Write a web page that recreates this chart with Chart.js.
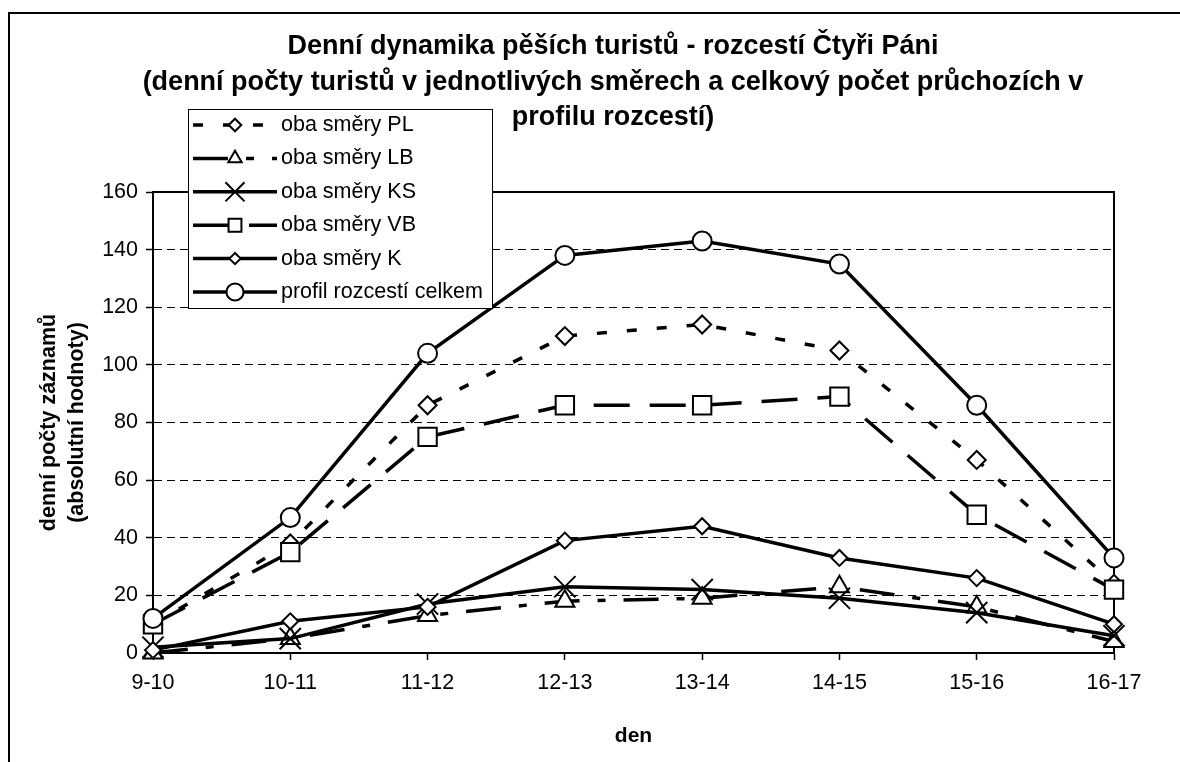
<!DOCTYPE html>
<html lang="cs">
<head>
  <meta charset="UTF-8" />
  <title>Denní dynamika pěších turistů - rozcestí Čtyři Páni</title>
  <script src="https://cdn.jsdelivr.net/npm/chart.js"></script>
  <style>
    html, body { margin: 0; padding: 0; background: #fff; }
    #wrap { width: 1180px; height: 762px; }
  </style>
</head>
<body>
<div id="wrap"><canvas id="chart" width="1180" height="762"></canvas></div>
<script>
  // hodiny (x osa)
  const hours = ['9-10', '10-11', '11-12', '12-13', '13-14', '14-15', '15-16', '16-17'];

  // odečtené hodnoty
  const obaPL  = [10, 38, 86, 110, 114, 105, 67, 24];
  const obaLB  = [0, 5, 13, 18, 19, 23, 16, 4];
  const obaKS  = [2, 5, 17, 23, 22, 19, 14, 6];
  const obaVB  = [10, 35, 75, 86, 86, 89, 48, 22];
  const obaK   = [1, 11, 16, 39, 44, 33, 26, 10];
  const celkem = [12, 47, 104, 138, 143, 135, 86, 33];

  const seriesNames = ['oba směry PL', 'oba směry LB', 'oba směry KS', 'oba směry VB', 'oba směry K', 'profil rozcestí celkem'];
  const titleLines = [
    'Denní dynamika pěších turistů - rozcestí Čtyři Páni',
    '(denní počty turistů v jednotlivých směrech a celkový počet průchozích v',
    'profilu rozcestí)'
  ];
  const yTicks = [0, 20, 40, 60, 80, 100, 120, 140, 160];

  const FONT = '"Liberation Sans", Arial, Helvetica, sans-serif';

  function series(label, data, extra) {
    return Object.assign({
      label: label,
      data: data,
      borderColor: '#000',
      backgroundColor: '#fff',
      borderWidth: 3.5,
      borderCapStyle: 'butt',
      pointBackgroundColor: '#fff',
      pointBorderColor: '#000',
      pointBorderWidth: 2,
      tension: 0,
      fill: false,
      clip: false
    }, extra);
  }

  const datasets = [
    series(seriesNames[0], obaPL,  { borderDash: [10, 20], pointStyle: 'rectRot', pointRadius: 9, order: 4 }),
    series(seriesNames[1], obaLB,  { borderDash: [35, 18, 8, 18], pointStyle: 'triangle', pointRadius: 11, order: 5 }),
    series(seriesNames[2], obaKS,  { pointStyle: 'crossRot', pointRadius: 15, order: 2 }),
    series(seriesNames[3], obaVB,  { borderDash: [36, 20], pointStyle: 'rect', pointRadius: 13, order: 3 }),
    series(seriesNames[4], obaK,   { pointStyle: 'rectRot', pointRadius: 8, order: 1 }),
    series(seriesNames[5], celkem, { pointStyle: 'circle', pointRadius: 9.5, order: 0 })
  ];

  // ramecek, nadpis, okraj grafu a legenda
  const decor = {
    id: 'decor',
    beforeDraw(chart) {
      const ctx = chart.ctx;
      ctx.save();
      ctx.fillStyle = '#fff';
      ctx.fillRect(0, 0, chart.width, chart.height);
      ctx.strokeStyle = '#000';
      ctx.lineWidth = 2;
      ctx.strokeRect(9, 13, 1400, 1000);
      ctx.fillStyle = '#000';
      ctx.font = 'bold 27px ' + FONT;
      ctx.textAlign = 'center';
      ctx.textBaseline = 'middle';
      titleLines.forEach((t, i) => ctx.fillText(t, 613, 47 + i * 35.5));
      ctx.restore();
    },
    beforeDatasetsDraw(chart) {
      const ctx = chart.ctx;
      const a = chart.chartArea;
      ctx.save();
      ctx.strokeStyle = '#000';
      ctx.lineWidth = 2;
      ctx.beginPath();
      ctx.moveTo(a.left, a.top);
      ctx.lineTo(a.right, a.top);
      ctx.lineTo(a.right, a.bottom);
      ctx.stroke();
      ctx.restore();
    },
    afterDraw(chart) {
      const ctx = chart.ctx;
      ctx.save();
      ctx.fillStyle = '#fff';
      ctx.fillRect(188, 109, 304, 199);
      ctx.strokeStyle = '#000';
      ctx.lineWidth = 1;
      ctx.strokeRect(188.5, 109.5, 304, 199);
      chart.data.datasets.forEach((ds, i) => {
        const cy = 125 + i * 33.4;
        ctx.strokeStyle = '#000';
        ctx.lineWidth = ds.borderWidth;
        ctx.setLineDash(ds.borderDash || []);
        ctx.beginPath();
        ctx.moveTo(193, cy);
        ctx.lineTo(277, cy);
        ctx.stroke();
        ctx.setLineDash([]);
        ctx.fillStyle = '#fff';
        ctx.lineWidth = ds.pointBorderWidth;
        const r = ds.pointStyle === 'crossRot' || ds.pointStyle === 'circle' ? ds.pointRadius * 0.9 : ds.pointRadius * 0.7;
        Chart.helpers.drawPoint(ctx, { pointStyle: ds.pointStyle, radius: r, borderWidth: ds.pointBorderWidth, rotation: 0 }, 235, cy);
        ctx.fillStyle = '#000';
        ctx.font = '21.5px ' + FONT;
        ctx.textAlign = 'left';
        ctx.textBaseline = 'middle';
        ctx.fillText(ds.label, 281, cy);
      });
      ctx.restore();
    }
  };

  new Chart(document.getElementById('chart'), {
    type: 'line',
    data: { labels: hours, datasets: datasets },
    plugins: [decor],
    options: {
      responsive: false,
      animation: false,
      devicePixelRatio: 1,
      layout: { padding: { left: 0, top: 192, right: 66, bottom: 0 } },
      plugins: {
        legend: { display: false },
        title: { display: false },
        tooltip: { enabled: false }
      },
      scales: {
        x: {
          type: 'category',
          offset: false,
          grid: { offset: false, drawOnChartArea: false, drawTicks: true, tickLength: 7, tickColor: '#000', tickWidth: 1.5 },
          border: { color: '#000', width: 2 },
          ticks: { color: '#000', font: { size: 21.5, family: FONT }, padding: 10, maxRotation: 0, autoSkip: false },
          title: { display: true, text: 'den', color: '#000', font: { size: 21, weight: 'bold', family: FONT }, padding: { top: 0, bottom: 13 } },
          afterFit(s) { s.height = 109; s.paddingLeft = 0; s.paddingRight = 0; }
        },
        y: {
          min: 0,
          max: 160,
          afterBuildTicks(s) { s.ticks = yTicks.map(v => ({ value: v })); },
          grid: {
            color: c => (c.tick && (c.tick.value === 0 || c.tick.value === 160)) ? 'rgba(0,0,0,0)' : '#000',
            lineWidth: 1,
            tickColor: '#000',
            tickLength: 7,
            tickWidth: 1.5,
            tickBorderDash: []
          },
          border: { color: '#000', width: 2, dash: [8, 5] },
          ticks: { color: '#000', font: { size: 21.5, family: FONT }, padding: 8 },
          title: {
            display: true,
            text: ['denní počty záznamů', '(absolutní hodnoty)'],
            color: '#000',
            font: { size: 21.5, weight: 'bold', family: FONT, lineHeight: 1.26 },
            padding: { top: 36, bottom: 0 }
          },
          afterFit(s) { s.width = 153; s.paddingTop = 0; s.paddingBottom = 0; }
        }
      }
    }
  });
</script>
</body>
</html>
